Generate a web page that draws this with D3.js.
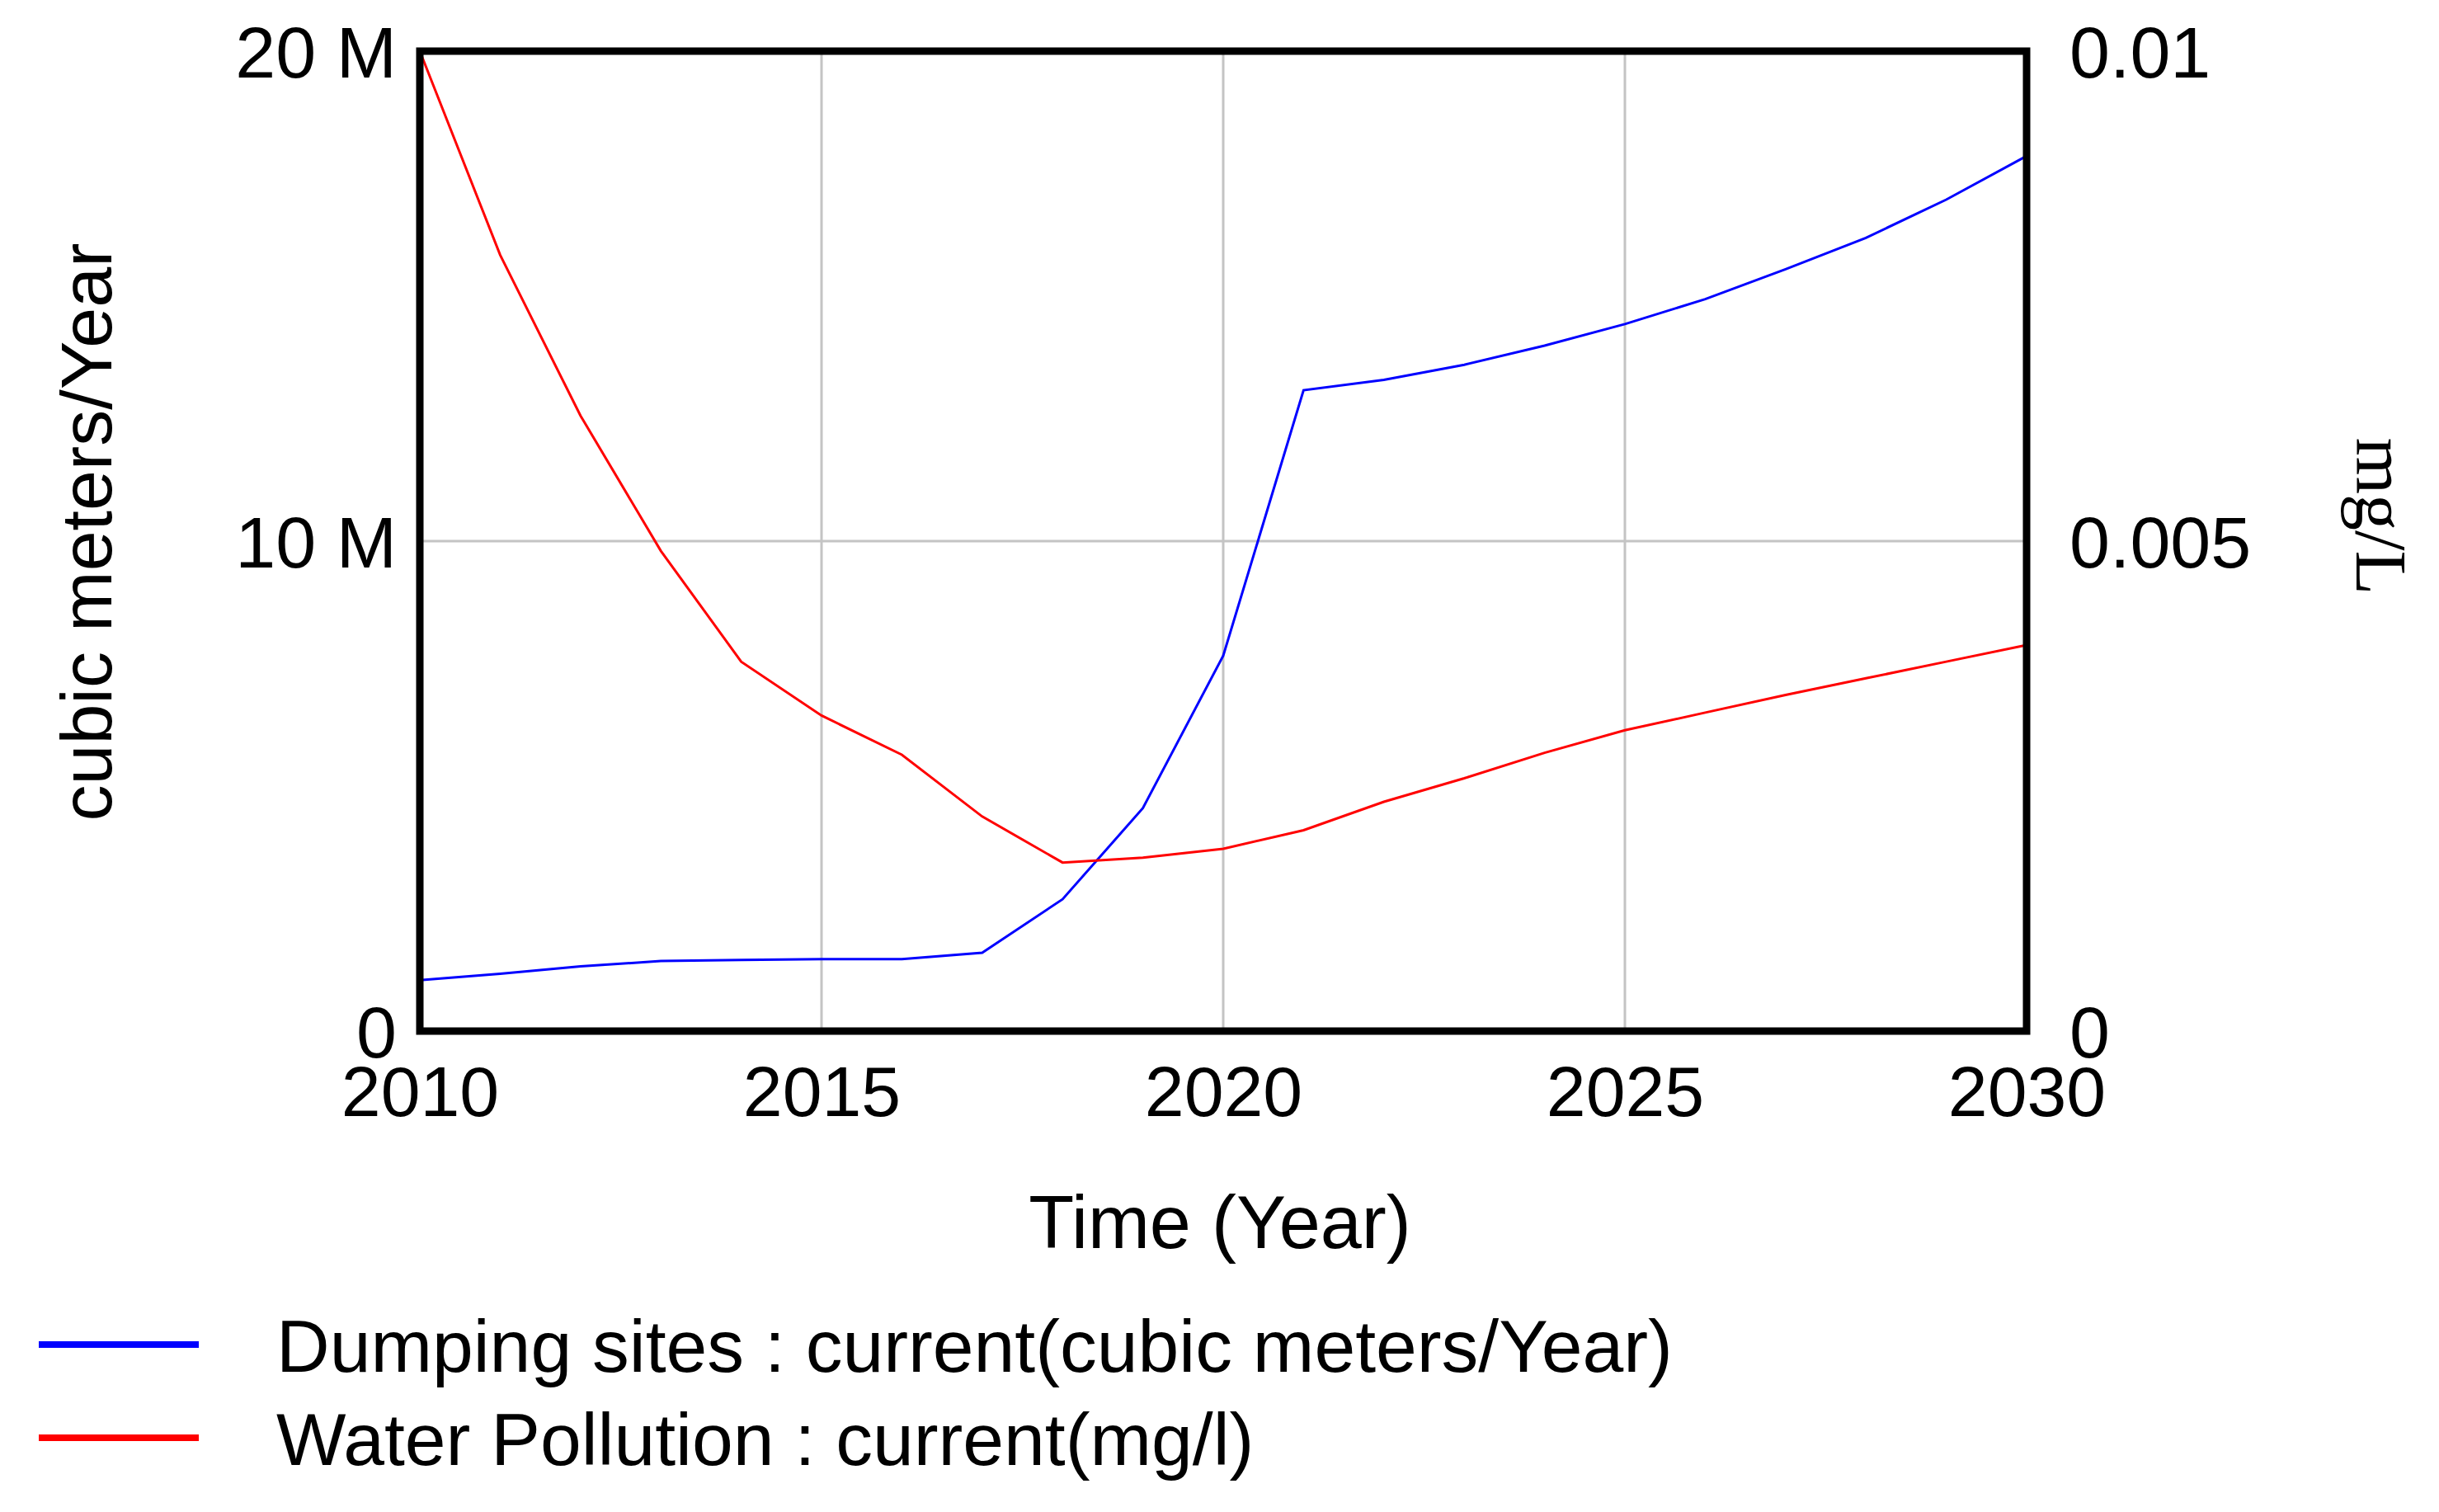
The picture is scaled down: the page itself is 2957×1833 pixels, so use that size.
<!DOCTYPE html>
<html>
<head>
<meta charset="utf-8">
<script src="https://cdn.jsdelivr.net/npm/d3@7"></script>
<style>
  html, body { margin: 0; padding: 0; background: #fff; }
  svg { display: block; }
  text { font-family: "Liberation Sans", Arial, sans-serif; fill: #000; }
</style>
</head>
<body>
<svg id="chart" width="2957" height="1833"></svg>
<script>
// ---- data ----
const years = [2010, 2011, 2012, 2013, 2014, 2015, 2016, 2017, 2018, 2019, 2020,
               2021, 2022, 2023, 2024, 2025, 2026, 2027, 2028, 2029, 2030];
const dumpingSites = [1.04e6, 1.17e6, 1.32e6, 1.43e6, 1.45e6, 1.47e6, 1.47e6, 1.60e6, 2.69e6, 4.55e6, 7.66e6,
                      13.08e6, 13.29e6, 13.60e6, 13.99e6, 14.43e6, 14.94e6, 15.55e6, 16.19e6, 16.97e6, 17.86e6];
const waterPollution = [0.0100, 0.00792, 0.00628, 0.00490, 0.00377, 0.00322, 0.00282, 0.00219, 0.00172, 0.00177, 0.00186,
                        0.00205, 0.00234, 0.00258, 0.00284, 0.00307, 0.00325, 0.00343, 0.00360, 0.00377, 0.00394];
const xTicks = [2010, 2015, 2020, 2025, 2030];
const leftTicks = [0, 10e6, 20e6];
const leftTickLabels = ["0", "10 M", "20 M"];
const rightTicks = [0, 0.005, 0.01];
const rightTickLabels = ["0", "0.005", "0.01"];
const seriesNames = ["Dumping sites : current(cubic meters/Year)", "Water Pollution : current(mg/l)"];
const seriesColors = ["#0000ff", "#ff0000"];

// ---- layout ----
const L = 509, R = 2457, T = 62, B = 1250;
const FS = 88, FS2 = 89.5;
const svg = d3.select("#chart");

const x = d3.scaleLinear().domain([2010, 2030]).range([L, R]);
const yL = d3.scaleLinear().domain([0, 20e6]).range([B, T]);
const yR = d3.scaleLinear().domain([0, 0.01]).range([B, T]);

// grid
const grid = svg.append("g").attr("stroke", "#c4c4c4").attr("stroke-width", 3);
grid.selectAll("line.v").data(xTicks.slice(1, -1)).join("line")
  .attr("x1", d => x(d)).attr("x2", d => x(d)).attr("y1", T).attr("y2", B);
grid.selectAll("line.h").data([10e6]).join("line")
  .attr("x1", L).attr("x2", R).attr("y1", d => yL(d)).attr("y2", d => yL(d));

// lines
const lineL = d3.line().x((d, i) => x(years[i])).y(d => yL(d));
const lineR = d3.line().x((d, i) => x(years[i])).y(d => yR(d));
svg.append("path").datum(dumpingSites).attr("d", lineL)
  .attr("fill", "none").attr("stroke", seriesColors[0]).attr("stroke-width", 3);
svg.append("path").datum(waterPollution).attr("d", lineR)
  .attr("fill", "none").attr("stroke", seriesColors[1]).attr("stroke-width", 3);

// frame
svg.append("rect").attr("x", L).attr("y", T).attr("width", R - L).attr("height", B - T)
  .attr("fill", "none").attr("stroke", "#000").attr("stroke-width", 9);

// axes
const axB = svg.append("g").attr("transform", `translate(0,${B})`)
  .call(d3.axisBottom(x).tickValues(xTicks).tickFormat(d3.format("d")).tickSize(0));
axB.select(".domain").remove();
axB.selectAll("text").attr("y", 0).attr("dy", null).attr("transform", "translate(0,103)")
  .style("font-size", "86px").style("font-family", "'Liberation Sans', Arial, sans-serif");

const axLft = svg.append("g").attr("transform", `translate(${L},0)`)
  .call(d3.axisLeft(yL).tickValues(leftTicks).tickFormat((d, i) => leftTickLabels[i]).tickSize(0).tickPadding(28));
axLft.select(".domain").remove();
axLft.selectAll("text").attr("dy", "0.36em")
  .style("font-size", FS + "px").style("font-family", "'Liberation Sans', Arial, sans-serif");

const axRgt = svg.append("g").attr("transform", `translate(${R},0)`)
  .call(d3.axisRight(yR).tickValues(rightTicks).tickFormat((d, i) => rightTickLabels[i]).tickSize(0).tickPadding(52));
axRgt.select(".domain").remove();
axRgt.selectAll("text").attr("dy", "0.36em")
  .style("font-size", FS + "px").style("font-family", "'Liberation Sans', Arial, sans-serif");

// axis titles
svg.append("text").attr("transform", "translate(135,645) rotate(-90)")
  .attr("text-anchor", "middle").style("font-size", FS + "px").text("cubic meters/Year");
svg.append("text").attr("transform", "translate(2857,626) rotate(90)")
  .attr("text-anchor", "middle").style("font-size", "88px")
  .style("font-family", "'Liberation Serif', 'Times New Roman', serif").text("mg/L");
svg.append("text").attr("x", 1479).attr("y", 1513).attr("text-anchor", "middle")
  .style("font-size", "90px").text("Time (Year)");

// legend
const lg = svg.append("g");
const legY = [1630, 1743];
seriesNames.forEach((name, i) => {
  lg.append("line").attr("x1", 47).attr("x2", 241).attr("y1", legY[i]).attr("y2", legY[i])
    .attr("stroke", seriesColors[i]).attr("stroke-width", 8);
  lg.append("text").attr("x", 335).attr("y", legY[i] + 33)
    .style("font-size", FS2 + "px").text(name);
});
</script>
</body>
</html>
